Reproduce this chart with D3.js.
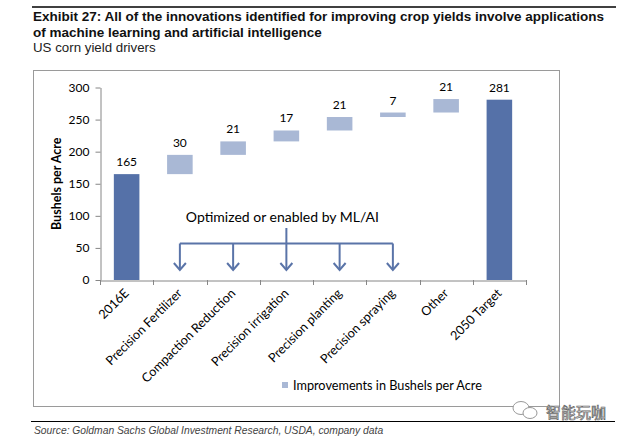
<!DOCTYPE html>
<html>
<head>
<meta charset="utf-8">
<script src="https://cdn.jsdelivr.net/npm/d3@7"></script>
<style>
  body { margin: 0; background: #fff; }
  svg { display: block; }
  .yaxis path, .yaxis line, .xaxis path, .xaxis line { stroke: #868686; }
  .yaxis text { font-family: Lato, sans-serif; font-size: 12px; fill: #000; }
</style>
</head>
<body>
<svg id="chart" width="628" height="439"></svg>
<script>
// chart data
var categories = ["2016E", "Precision Fertilizer", "Compaction Reduction", "Precision irrigation",
    "Precision planting", "Precision spraying", "Other", "2050 Target"];
var values = [165, 30, 21, 17, 21, 7, 21, 281];
var isTotal = [true, false, false, false, false, false, false, true];
var arrowCategories = ["Precision Fertilizer", "Compaction Reduction", "Precision irrigation",
    "Precision planting", "Precision spraying"];
var yTicks = [0, 50, 100, 150, 200, 250, 300];

var titleLines = ["Exhibit 27: All of the innovations identified for improving crop yields involve applications",
    "of machine learning and artificial intelligence"];
var subtitle = "US corn yield drivers";
var annotation = "Optimized or enabled by ML/AI";
var legendLabel = "Improvements in Bushels per Acre";
var yTitle = "Bushels per Acre";
var source = "Source: Goldman Sachs Global Investment Research, USDA, company data";

var DARK = "#5571a8";
var LIGHT = "#a9b8d5";
var ARROW = "#5a74a8";

// waterfall bases (running sum of the steps)
var rows = [];
var running = 0;
categories.forEach(function (c, i) {
    if (isTotal[i]) {
        rows.push({cat: c, lo: 0, hi: values[i], v: values[i], total: true});
        running = values[i];
    } else {
        rows.push({cat: c, lo: running, hi: running + values[i], v: values[i], total: false});
        running += values[i];
    }
});

var svg = d3.select("#chart");

// header rules and titles
svg.append("line").attr("x1", 32).attr("x2", 616).attr("y1", 7).attr("y2", 7)
    .attr("stroke", "#000").attr("stroke-width", 1.5);
svg.selectAll(".title").data(titleLines).enter().append("text")
    .attr("x", 33).attr("y", function (d, i) { return 21 + i * 16; })
    .attr("font-family", "Liberation Sans, Arial, sans-serif")
    .attr("font-weight", "bold").attr("font-size", 13.5).attr("fill", "#111")
    .text(function (d) { return d; });
svg.append("text").attr("x", 33).attr("y", 52)
    .attr("font-family", "Liberation Sans, Arial, sans-serif")
    .attr("font-size", 13.3).attr("fill", "#222").text(subtitle);

// chart frame
svg.append("rect").attr("x", 33.5).attr("y", 70.5).attr("width", 526).attr("height", 336)
    .attr("fill", "none").attr("stroke", "#9a9a9a").attr("stroke-width", 1);

// scales
var xBand = d3.scaleBand().domain(categories).range([100, 526]).padding(0);
var xBar = d3.scaleBand().domain(categories).range([100, 526]).paddingInner(0.52).paddingOuter(0.26);
var y = d3.scaleLinear().domain([0, 300]).range([280, 87.5]);

// y axis
var yaxis = d3.axisLeft(y).tickValues(yTicks).tickSize(5).tickSizeOuter(0).tickPadding(6);
svg.append("g").attr("class", "yaxis").attr("transform", "translate(100.5,0)").call(yaxis);

svg.append("text")
    .attr("transform", "translate(61," + y(150) + ") rotate(-90)")
    .attr("text-anchor", "middle")
    .attr("font-family", "Lato, sans-serif").attr("font-weight", "bold").attr("font-size", 12.5)
    .text(yTitle);

// bars
svg.append("g").selectAll("rect").data(rows).enter().append("rect")
    .attr("x", function (d) { return xBar(d.cat); })
    .attr("width", xBar.bandwidth())
    .attr("y", function (d) { return y(d.hi); })
    .attr("height", function (d) { return y(d.lo) - y(d.hi); })
    .attr("fill", function (d) { return d.total ? DARK : LIGHT; });

svg.append("g").selectAll("text").data(rows).enter().append("text")
    .attr("x", function (d) { return xBand(d.cat) + xBand.bandwidth() / 2; })
    .attr("y", function (d) { return y(d.hi) - 8; })
    .attr("text-anchor", "middle")
    .attr("font-family", "Lato, sans-serif").attr("font-size", 12)
    .text(function (d) { return d.v; });

// x axis: line plus ticks at category boundaries
var xaxis = d3.axisBottom(xBand).tickSize(0).tickFormat("");
svg.append("g").attr("class", "xaxis").attr("transform", "translate(0,280.5)").call(xaxis);
var bounds = categories.map(function (c) { return xBand(c); }).concat([xBand.range()[1]]);
svg.append("g").selectAll("line").data(bounds).enter().append("line")
    .attr("x1", function (d) { return Math.round(d) + 0.5; })
    .attr("x2", function (d) { return Math.round(d) + 0.5; })
    .attr("y1", 280).attr("y2", 285)
    .attr("stroke", "#868686");

svg.append("g").selectAll("text").data(categories).enter().append("text")
    .attr("transform", function (c) {
        return "translate(" + (xBand(c) + xBand.bandwidth() / 2 + 3) + ",294) rotate(-45)";
    })
    .attr("text-anchor", "end")
    .attr("font-family", "Lato, sans-serif").attr("font-size", 12.6)
    .text(function (c) { return c; });

// ML/AI bracket with arrows
var arrowX = arrowCategories.map(function (c) { return xBand(c) + xBand.bandwidth() / 2; });
var bracketY = 243.5, tipY = 270;
var ag = svg.append("g").attr("stroke", ARROW).attr("stroke-width", 2).attr("fill", "none");
ag.append("line").attr("x1", arrowX[0]).attr("x2", arrowX[arrowX.length - 1])
    .attr("y1", bracketY).attr("y2", bracketY);
ag.append("line").attr("x1", arrowX[2]).attr("x2", arrowX[2]).attr("y1", 228).attr("y2", bracketY);
arrowX.forEach(function (ax) {
    ag.append("line").attr("x1", ax).attr("x2", ax).attr("y1", bracketY).attr("y2", tipY);
    ag.append("path").attr("d", "M" + (ax - 6) + "," + (tipY - 7) + "L" + ax + "," + tipY + "L" + (ax + 6) + "," + (tipY - 7));
});
svg.append("text").attr("x", arrowX[2] - 4).attr("y", 221.5).attr("text-anchor", "middle")
    .attr("font-family", "Lato, sans-serif").attr("font-size", 14).text(annotation);

// legend
svg.append("rect").attr("x", 282).attr("y", 382).attr("width", 6).attr("height", 6).attr("fill", LIGHT);
svg.append("text").attr("x", 293).attr("y", 390)
    .attr("font-family", "Lato, sans-serif").attr("font-size", 12.7).text(legendLabel);

// footer rule and source
svg.append("line").attr("x1", 31).attr("x2", 615).attr("y1", 421.5).attr("y2", 421.5)
    .attr("stroke", "#000").attr("stroke-width", 1.2);
svg.append("text").attr("x", 34).attr("y", 434)
    .attr("font-family", "Liberation Sans, Arial, sans-serif").attr("font-style", "italic")
    .attr("font-size", 10.3).attr("fill", "#444").text(source);

// watermark
var wm = svg.append("g").attr("fill", "#fff").attr("stroke", "#999").attr("stroke-width", 1);
wm.append("ellipse").attr("cx", 521).attr("cy", 408).attr("rx", 8).attr("ry", 6.5);
wm.append("ellipse").attr("cx", 530).attr("cy", 413).attr("rx", 7).attr("ry", 5.5);
svg.append("text").attr("x", 546).attr("y", 418)
    .attr("font-family", "Noto Sans CJK SC, sans-serif").attr("font-size", 15)
    .attr("fill", "#fff").attr("stroke", "#666").attr("stroke-width", 0.7)
    .text("智能玩咖");
</script>
</body>
</html>
